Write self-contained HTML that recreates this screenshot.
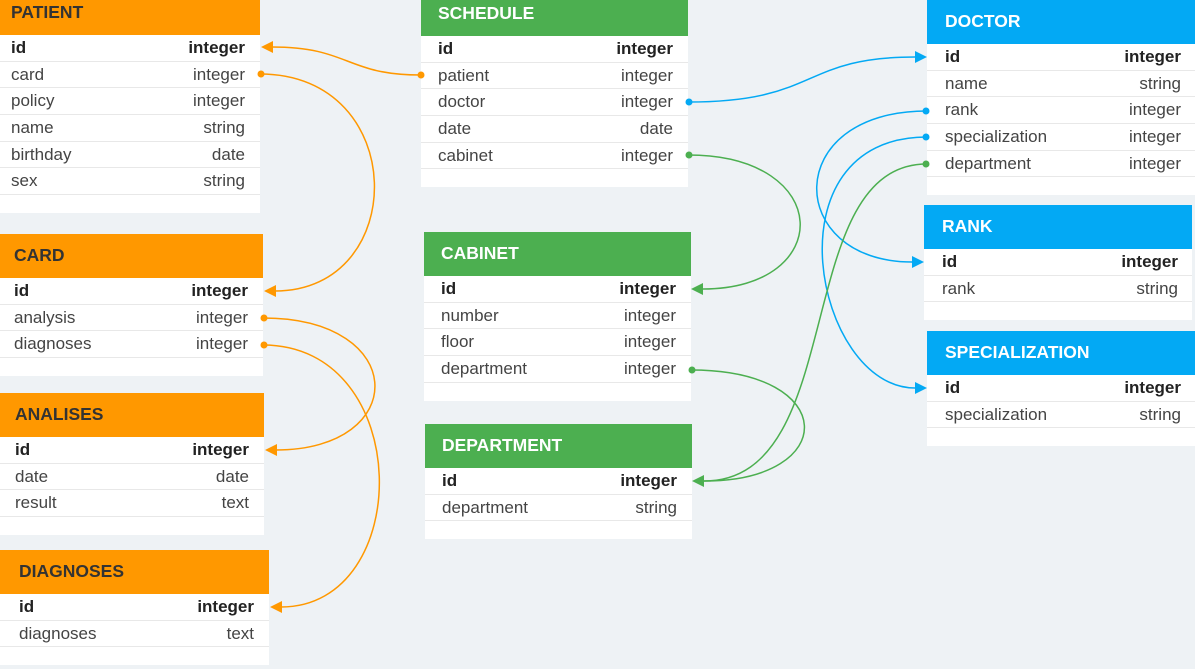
<!DOCTYPE html>
<html><head><meta charset="utf-8"><style>
body{margin:0;width:1195px;height:669px;background:#eef2f5;overflow:hidden;position:relative;font-family:"Liberation Sans",Arial,sans-serif;}
.t{position:absolute;background:#fff;}
.h{height:44px;line-height:42px;padding-left:11px;font-weight:bold;font-size:17.5px;box-sizing:border-box;}
.o .h{background:#ff9800;color:#333;}
.g .h{background:#4caf50;color:#fff;}
.b .h{background:#03a9f4;color:#fff;}
.r{height:26.7px;line-height:26px;font-size:17px;color:#444;border-bottom:1px solid #e8e8e8;box-sizing:border-box;padding:0 15px 0 11px;display:flex;justify-content:space-between;}
.r.k{font-weight:bold;color:#222;}
.f{height:18px;}
svg{position:absolute;left:0;top:0;}
</style></head><body>
<div class="t o" style="left:0;top:-9px;width:260px"><div class="h">PATIENT</div>
<div class="r k"><span>id</span><span>integer</span></div><div class="r"><span>card</span><span>integer</span></div><div class="r"><span>policy</span><span>integer</span></div><div class="r"><span>name</span><span>string</span></div><div class="r"><span>birthday</span><span>date</span></div><div class="r"><span>sex</span><span>string</span></div><div class="f"></div></div>
<div class="t o" style="left:0;top:234px;width:263px"><div class="h" style="padding-left:14px">CARD</div>
<div class="r k" style="padding-left:14px"><span>id</span><span>integer</span></div><div class="r" style="padding-left:14px"><span>analysis</span><span>integer</span></div><div class="r" style="padding-left:14px"><span>diagnoses</span><span>integer</span></div><div class="f"></div></div>
<div class="t o" style="left:0;top:393px;width:264px"><div class="h" style="padding-left:15px">ANALISES</div>
<div class="r k" style="padding-left:15px"><span>id</span><span>integer</span></div><div class="r" style="padding-left:15px"><span>date</span><span>date</span></div><div class="r" style="padding-left:15px"><span>result</span><span>text</span></div><div class="f"></div></div>
<div class="t o" style="left:0;top:550px;width:269px"><div class="h" style="padding-left:19px">DIAGNOSES</div>
<div class="r k" style="padding-left:19px"><span>id</span><span>integer</span></div><div class="r" style="padding-left:19px"><span>diagnoses</span><span>text</span></div><div class="f"></div></div>
<div class="t g" style="left:421px;top:-8px;width:267px"><div class="h" style="padding-left:17px">SCHEDULE</div>
<div class="r k" style="padding-left:17px"><span>id</span><span>integer</span></div><div class="r" style="padding-left:17px"><span>patient</span><span>integer</span></div><div class="r" style="padding-left:17px"><span>doctor</span><span>integer</span></div><div class="r" style="padding-left:17px"><span>date</span><span>date</span></div><div class="r" style="padding-left:17px"><span>cabinet</span><span>integer</span></div><div class="f"></div></div>
<div class="t g" style="left:424px;top:232px;width:267px"><div class="h" style="padding-left:17px">CABINET</div>
<div class="r k" style="padding-left:17px"><span>id</span><span>integer</span></div><div class="r" style="padding-left:17px"><span>number</span><span>integer</span></div><div class="r" style="padding-left:17px"><span>floor</span><span>integer</span></div><div class="r" style="padding-left:17px"><span>department</span><span>integer</span></div><div class="f"></div></div>
<div class="t g" style="left:425px;top:424px;width:267px"><div class="h" style="padding-left:17px">DEPARTMENT</div>
<div class="r k" style="padding-left:17px"><span>id</span><span>integer</span></div><div class="r" style="padding-left:17px"><span>department</span><span>string</span></div><div class="f"></div></div>
<div class="t b" style="left:927px;top:0;width:268px"><div class="h" style="padding-left:18px">DOCTOR</div>
<div class="r k" style="padding-left:18px;padding-right:14px"><span>id</span><span>integer</span></div><div class="r" style="padding-left:18px;padding-right:14px"><span>name</span><span>string</span></div><div class="r" style="padding-left:18px;padding-right:14px"><span>rank</span><span>integer</span></div><div class="r" style="padding-left:18px;padding-right:14px"><span>specialization</span><span>integer</span></div><div class="r" style="padding-left:18px;padding-right:14px"><span>department</span><span>integer</span></div><div class="f"></div></div>
<div class="t b" style="left:924px;top:205px;width:268px"><div class="h" style="padding-left:18px">RANK</div>
<div class="r k" style="padding-left:18px;padding-right:14px"><span>id</span><span>integer</span></div><div class="r" style="padding-left:18px;padding-right:14px"><span>rank</span><span>string</span></div><div class="f"></div></div>
<div class="t b" style="left:927px;top:331px;width:268px"><div class="h" style="padding-left:18px">SPECIALIZATION</div>
<div class="r k" style="padding-left:18px;padding-right:14px"><span>id</span><span>integer</span></div><div class="r" style="padding-left:18px;padding-right:14px"><span>specialization</span><span>string</span></div><div class="f"></div></div>
<svg width="1195" height="669" fill="none" stroke-width="1.5">
<g stroke="#ff9800">
<path d="M421,75 C345,75 350,47 272,47"/><path d="M260,74 C410,74 410,291 275,291"/><path d="M263,318 C410,318 410,450 276,450"/><path d="M263,345 C415,345 415,607 281,607"/></g>
<g fill="#ff9800"><path d="M261,47 L273,41 L273,53Z"/><path d="M264,291 L276,285 L276,297Z"/><path d="M265,450 L277,444 L277,456Z"/><path d="M270,607 L282,601 L282,613Z"/>
<circle cx="421" cy="75" r="3.5"/><circle cx="261" cy="74" r="3.5"/><circle cx="264" cy="318" r="3.5"/><circle cx="264" cy="345" r="3.5"/></g>
<g stroke="#03a9f4"><path d="M688,102 C820,102 800,57 915,57"/><path d="M927,111 C780,111 785,262 912,262"/><path d="M927,137 C765,137 815,388 915,388"/></g>
<g fill="#03a9f4"><path d="M927,57 L915,51 L915,63Z"/><path d="M924,262 L912,256 L912,268Z"/><path d="M927,388 L915,382 L915,394Z"/>
<circle cx="689" cy="102" r="3.5"/><circle cx="926" cy="111" r="3.5"/><circle cx="926" cy="137" r="3.5"/></g>
<g stroke="#4caf50"><path d="M688,155 C835,155 835,289 703,289"/><path d="M691,370 C840,370 840,481 704,481"/><path d="M927,164 C790,164 850,481 704,481"/></g>
<g fill="#4caf50"><path d="M691,289 L703,283 L703,295Z"/><path d="M692,481 L704,475 L704,487Z"/>
<circle cx="689" cy="155" r="3.5"/><circle cx="692" cy="370" r="3.5"/><circle cx="926" cy="164" r="3.5"/></g>
</svg>
</body></html>
